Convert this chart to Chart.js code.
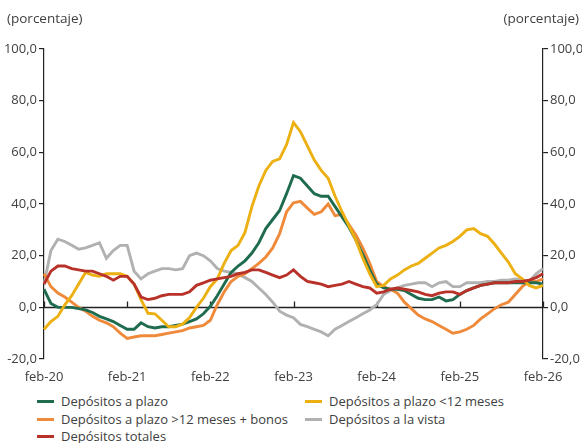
<!DOCTYPE html>
<html lang="es">
<head>
<meta charset="utf-8">
<script src="https://cdn.jsdelivr.net/npm/chart.js@4.4.1/dist/chart.umd.min.js"></script>
<style>
  html, body { margin: 0; padding: 0; background: #fff; }
  #wrap { position: relative; width: 582px; height: 443px; font-family: "Open Sans", sans-serif; color: #404040; }
  #c { position: absolute; left: 0; top: 0; }
  .unit { position: absolute; top: 9px; font-size: 13.5px; color: #404040; }
  .legend { position: absolute; font-size: 13px; color: #404040; line-height: 17.5px; white-space: nowrap; }
  .legend span.sw { display: inline-block; width: 17px; height: 3px; vertical-align: middle; margin-right: 7px; position: relative; top: -1px; }
</style>
</head>
<body>
<div id="wrap">
  <canvas id="c" width="582" height="392"></canvas>
  <div class="unit" style="left:7px;">(porcentaje)</div>
  <div class="unit" style="right:3px;">(porcentaje)</div>
  <div id="legend"></div>
</div>
<script>
// Variación anual de los depósitos, mensual, feb-20 a feb-26
const MESES = ['ene','feb','mar','abr','may','jun','jul','ago','sep','oct','nov','dic'];
const meses = [];
for (let i = 0; i <= 72; i++) {
  const m = (1 + i) % 12;
  const a = 20 + Math.floor((1 + i) / 12);
  meses.push(MESES[m] + '-' + a);
}

const depPlazo = [
  7, 1.5, 0, 0, 0, -0.5, -1, -2, -3.5, -4.5, -5.5, -7,
  -8.5, -8.5, -6, -7.5, -8, -7.5, -7.5, -7, -6.5, -5.5, -4.5, -2.5,
  0.4, 4.5, 9, 13.5, 16, 18, 21, 25, 30.5, 34, 37.5, 44,
  51, 50, 47, 44, 43, 43, 39, 35, 31, 26, 20.5, 14.5,
  9, 7.5, 7, 7, 6.5, 5, 3.5, 3, 3, 4, 2.5, 3,
  5, 6.5, 7.5, 8.5, 9, 9.5, 9.5, 9.5, 9.5, 9.5, 9.5, 9.5,
  9
];
const depPlazoCorto = [
  -8.5, -5.5, -3.5, 1, 4.5, 9, 13.5, 12.5, 12, 13, 13, 13,
  12, 9, 3, -2.3, -2.5, -5, -7.5, -7.5, -6.5, -4, 0, 3.5,
  8, 11, 17, 22, 24, 29, 39, 47, 53, 56.5, 57.5, 63,
  71.5, 68, 62.5, 57, 53, 50, 43, 37, 31.5, 26, 19, 13,
  8, 8.5, 11, 12.5, 14.5, 16, 17, 19, 21, 23, 24, 25.5,
  27.5, 30, 30.5, 28.5, 27.5, 24.5, 21, 17.5, 13, 11, 8.5, 7.5,
  8.5
];
const depPlazoLargo = [
  13, 8, 5.5, 4, 2, 0, -1.5, -3.5, -5, -6, -7.5, -10,
  -12, -11.5, -11, -11, -11, -10.5, -10, -9.5, -9, -8, -7.5, -7,
  -5, 1, 6, 10, 12, 13, 15, 17, 19.5, 23, 28.5, 37,
  40.5, 41, 38.4, 36, 37, 40, 35.5, 36, 32, 28, 23, 17,
  10, 8, 7, 5.5, 2, -0.5, -3, -4.5, -5.5, -7, -8.5, -10,
  -9.5, -8.5, -7, -4.5, -2.5, -0.5, 1, 2, 5, 8, 10, 10,
  11
];
const depVista = [
  9, 22, 26.4, 25.5, 24, 22.5, 23, 24, 25, 19, 22, 24,
  24, 14, 11, 13, 14, 15, 15, 14.5, 15, 20, 21, 20,
  18, 15, 14, 13.5, 13, 11.5, 10, 7.5, 5, 2, -1.5, -3,
  -4, -6.6, -7.5, -8.5, -9.5, -11, -8.5, -7, -5.5, -4, -2.5, -1,
  1, 5, 6.5, 7.5, 8.5, 9, 9.5, 9.5, 8, 9.5, 10, 8,
  8, 9.5, 9.5, 9.5, 10, 10, 10.5, 10.5, 11, 10.5, 10, 13,
  15
];
const depTotales = [
  9, 14, 16, 16, 15, 14.5, 14, 14, 13, 12, 10.5, 12,
  12, 9, 4, 3, 3.5, 4.5, 5, 5, 5, 6, 8.5, 9.5,
  10.5, 11, 11.5, 12, 13, 13.5, 14.5, 14.5, 13.5, 12.5, 11.5, 12.5,
  14.5, 12, 10, 9.5, 9, 8, 8.5, 9, 10, 9, 8, 7.5,
  5.5, 6, 7, 7.5, 7, 6.5, 6, 5, 4.5, 5.5, 6, 6,
  5, 6.5, 7.5, 8.5, 9, 9.5, 9.5, 9.5, 10, 10, 10.5, 11.5,
  13
];

const yTicks = [-20, 0, 20, 40, 60, 80, 100];

const series = [
  { label: 'Depósitos a plazo', data: depPlazo, color: '#1f6b4e', order: 2 },
  { label: 'Depósitos a plazo <12 meses', data: depPlazoCorto, color: '#ecb012', order: 1 },
  { label: 'Depósitos a plazo >12 meses + bonos', data: depPlazoLargo, color: '#ef8a3a', order: 3 },
  { label: 'Depósitos a la vista', data: depVista, color: '#b1b1b1', order: 4 },
  { label: 'Depósitos totales', data: depTotales, color: '#b8322a', order: 0 }
];

const fmt = v => v.toFixed(1).replace('.', ',');
const TXT = '#404040';
const AXIS = '#222222';

// zero line and the yearly tick marks that sit on it
const zeroAxis = {
  id: 'zeroAxis',
  beforeDatasetsDraw(chart) {
    const { ctx, chartArea, scales } = chart;
    const y0 = Math.round(scales.y.getPixelForValue(0)) + 0.5;
    ctx.save();
    ctx.strokeStyle = AXIS;
    ctx.lineWidth = 1.3;
    ctx.beginPath();
    ctx.moveTo(chartArea.left, y0);
    ctx.lineTo(chartArea.right, y0);
    meses.forEach((m, i) => {
      if (m.startsWith('feb')) {
        const x = Math.round(scales.x.getPixelForValue(i)) + 0.5;
        ctx.moveTo(x, y0);
        ctx.lineTo(x, y0 - 6);
      }
    });
    ctx.stroke();
    ctx.restore();
  }
};

const yAxis = (pos, width) => ({
  type: 'linear',
  position: pos,
  min: -20,
  max: 100,
  afterBuildTicks: s => { s.ticks = yTicks.map(v => ({ value: v })); },
  afterFit: s => { s.width = width; },
  ticks: { color: TXT, font: { family: 'Open Sans', size: 13 }, padding: 2, callback: v => fmt(v) },
  grid: { drawOnChartArea: false, tickLength: 5, color: AXIS, lineWidth: 1.2 },
  border: { display: true, color: AXIS, width: 1.2 }
});

new Chart(document.getElementById('c'), {
  type: 'line',
  data: {
    labels: meses,
    datasets: series.map(s => ({
      label: s.label,
      data: s.data,
      borderColor: s.color,
      backgroundColor: s.color,
      borderWidth: 2.9,
      pointRadius: 0,
      tension: 0,
      order: s.order,
      yAxisID: 'y'
    }))
  },
  options: {
    responsive: false,
    devicePixelRatio: 1,
    animation: false,
    layout: { padding: { top: 49, left: 0, right: 0, bottom: 0 } },
    plugins: { legend: { display: false }, tooltip: { enabled: false } },
    scales: {
      x: {
        type: 'category',
        offset: false,
        afterFit: s => { s.height = 33; },
        grid: { display: false, drawTicks: false },
        border: { display: false },
        ticks: {
          autoSkip: false,
          maxRotation: 0,
          padding: 10,
          color: TXT,
          font: { family: 'Open Sans', size: 13 },
          callback: (v, i) => meses[i].startsWith('feb') ? meses[i] : null
        }
      },
      y: yAxis('left', 44),
      y2: yAxis('right', 39)
    }
  },
  plugins: [zeroAxis]
});

// two-column legend below the plot
const legendPos = [
  { left: 37, top: 393 }, { left: 305, top: 393 },
  { left: 37, top: 410.5 }, { left: 305, top: 410.5 },
  { left: 37, top: 428 }
];
const legend = document.getElementById('legend');
series.forEach((s, i) => {
  const d = document.createElement('div');
  d.className = 'legend';
  d.style.left = legendPos[i].left + 'px';
  d.style.top = legendPos[i].top + 'px';
  d.innerHTML = '<span class="sw" style="background:' + s.color + '"></span>';
  d.appendChild(document.createTextNode(s.label));
  legend.appendChild(d);
});
</script>
</body>
</html>
